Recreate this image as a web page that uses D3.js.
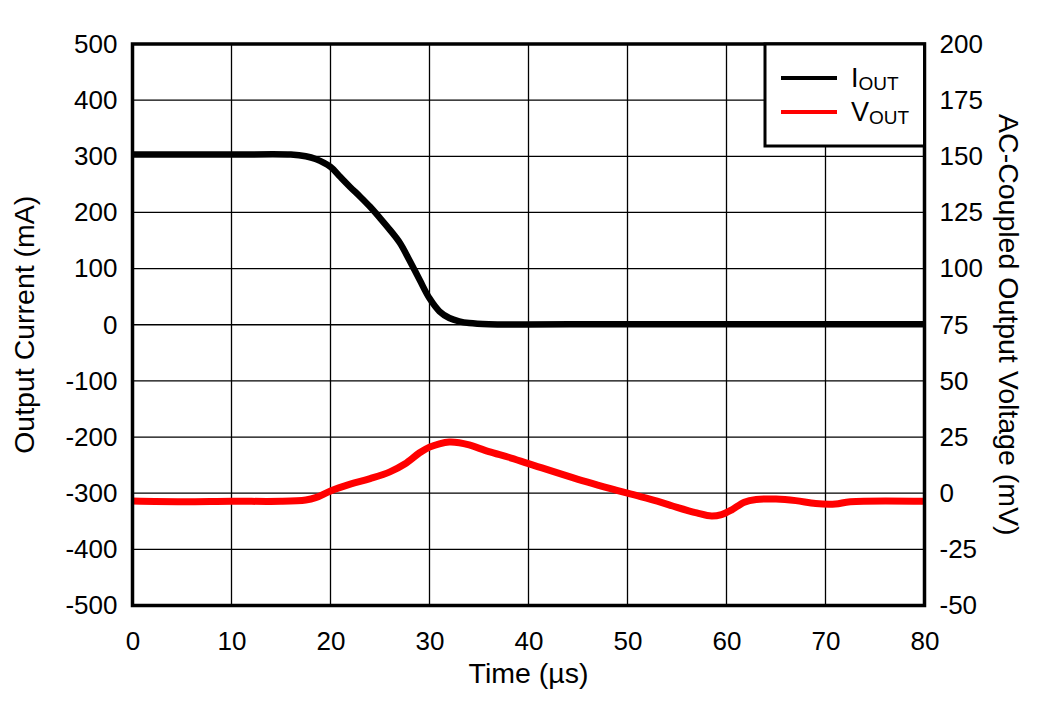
<!DOCTYPE html>
<html>
<head>
<meta charset="utf-8">
<script src="https://cdn.jsdelivr.net/npm/d3@7"></script>
<style>
  html, body { margin: 0; padding: 0; background: #fff; }
  svg { display: block; font-family: "Liberation Sans", Arial, sans-serif; }
</style>
</head>
<body>
<svg id="chart" width="1046" height="701"></svg>
<script>
// ---- data ----
const timeTicks = [0, 10, 20, 30, 40, 50, 60, 70, 80];
const currentTicks = [-500, -400, -300, -200, -100, 0, 100, 200, 300, 400, 500];
const voltageTicks = [-50, -25, 0, 25, 50, 75, 100, 125, 150, 175, 200];

const ioutTime  = [0, 5, 10, 16, 17.5, 18.5, 20, 21, 22, 23, 24, 25, 26, 27, 28, 29, 30, 31, 32, 33, 34, 36, 50, 80];
const ioutValue = [303, 303, 303, 303, 300, 295, 281, 263, 245, 228, 210, 190, 169, 146, 114, 80, 47, 24, 12, 6, 3, 1, 1, 1];

const voutTime  = [0, 5, 10, 15, 17.5, 18.5, 20, 22, 24, 26, 27.5, 29, 30, 31, 32, 33, 34, 36, 38, 40, 45, 50, 53, 55, 57, 58.5, 59.5, 60.5, 61.8, 63, 65, 67, 69, 71, 72.5, 80];
const voutValue = [-3.5, -3.8, -3.6, -3.6, -3, -2, 1, 4, 6.5, 9.5, 13, 18, 20.5, 22, 22.8, 22.5, 21.5, 18.5, 16, 13.2, 6.2, 0, -3.5, -6.3, -8.8, -10.2, -9.5, -7.5, -4, -2.8, -2.6, -3.3, -4.6, -4.8, -3.8, -3.6];

const seriesNames = ["I", "V"];
const seriesColors = ["#000000", "#ff0000"];

// ---- layout ----
const svg = d3.select("#chart");
const pL = 132.5, pR = 924.5, pT = 44, pB = 605.5;

const x = d3.scaleLinear().domain([0, 80]).range([pL, pR]);
const yL = d3.scaleLinear().domain([-500, 500]).range([pB, pT]);
const yR = d3.scaleLinear().domain([-50, 200]).range([pB, pT]);

// grid
const grid = svg.append("g");
grid.selectAll("line.v").data(timeTicks).join("line").attr("class", "v")
  .attr("x1", d => x(d)).attr("x2", d => x(d))
  .attr("y1", pT).attr("y2", pB)
  .attr("stroke", "#000").attr("stroke-width", 1.3);
grid.selectAll("line.h").data(currentTicks).join("line").attr("class", "h")
  .attr("x1", pL).attr("x2", pR)
  .attr("y1", d => yL(d)).attr("y2", d => yL(d))
  .attr("stroke", "#000").attr("stroke-width", 1.3);

// axes
const fs = 26, tfs = 28.5;
const fmt = d => String(d);
const axL = svg.append("g").attr("transform", `translate(${pL},0)`)
  .call(d3.axisLeft(yL).tickValues(currentTicks).tickSize(0).tickPadding(15).tickFormat(fmt));
const axR = svg.append("g").attr("transform", `translate(${pR},0)`)
  .call(d3.axisRight(yR).tickValues(voltageTicks).tickSize(0).tickPadding(15).tickFormat(fmt));
const axB = svg.append("g").attr("transform", `translate(0,${pB})`)
  .call(d3.axisBottom(x).tickValues(timeTicks).tickSize(0).tickPadding(26).tickFormat(fmt));
[axL, axR, axB].forEach(a => {
  a.select(".domain").remove();
  a.selectAll("text").attr("font-size", fs).attr("fill", "#000")
    .attr("font-family", "Liberation Sans, Arial, sans-serif");
});

// lines
const lineL = d3.line().x(d => x(d[0])).y(d => yL(d[1])).curve(d3.curveCatmullRom.alpha(0.5));
const lineR = d3.line().x(d => x(d[0])).y(d => yR(d[1])).curve(d3.curveCatmullRom.alpha(0.5));
svg.append("clipPath").attr("id", "clip").append("rect")
  .attr("x", pL).attr("y", pT).attr("width", pR - pL).attr("height", pB - pT);

svg.append("path").attr("clip-path", "url(#clip)")
  .datum(ioutTime.map((t, i) => [t, ioutValue[i]]))
  .attr("d", lineL).attr("fill", "none").attr("stroke", seriesColors[0]).attr("stroke-width", 6.5);
svg.append("path").attr("clip-path", "url(#clip)")
  .datum(voutTime.map((t, i) => [t, voutValue[i]]))
  .attr("d", lineR).attr("fill", "none").attr("stroke", seriesColors[1]).attr("stroke-width", 7);

// frame
svg.append("rect").attr("x", pL).attr("y", pT).attr("width", pR - pL).attr("height", pB - pT)
  .attr("fill", "none").attr("stroke", "#000").attr("stroke-width", 3.5);

// legend
const lg = svg.append("g");
lg.append("rect").attr("x", 765).attr("y", pT).attr("width", pR - 765).attr("height", 102)
  .attr("fill", "#fff").attr("stroke", "#000").attr("stroke-width", 3);
const legY = [78, 112];
seriesNames.forEach((n, i) => {
  lg.append("line").attr("x1", 781).attr("x2", 837).attr("y1", legY[i]).attr("y2", legY[i])
    .attr("stroke", seriesColors[i]).attr("stroke-width", 4);
  const t = lg.append("text").attr("x", 851).attr("y", legY[i] + 9).attr("font-size", 27).attr("fill", "#000");
  t.append("tspan").text(n);
  t.append("tspan").attr("font-size", 19).attr("dy", 3).text("OUT");
});

// axis titles
svg.append("text").attr("transform", `translate(34,${(pT + pB) / 2}) rotate(-90)`)
  .attr("text-anchor", "middle").attr("font-size", tfs).text("Output Current (mA)");
svg.append("text").attr("transform", `translate(999,${(pT + pB) / 2}) rotate(90)`)
  .attr("text-anchor", "middle").attr("font-size", tfs).text("AC-Coupled Output Voltage (mV)");
svg.append("text").attr("x", (pL + pR) / 2).attr("y", 683)
  .attr("text-anchor", "middle").attr("font-size", tfs).text("Time (µs)");
</script>
</body>
</html>
